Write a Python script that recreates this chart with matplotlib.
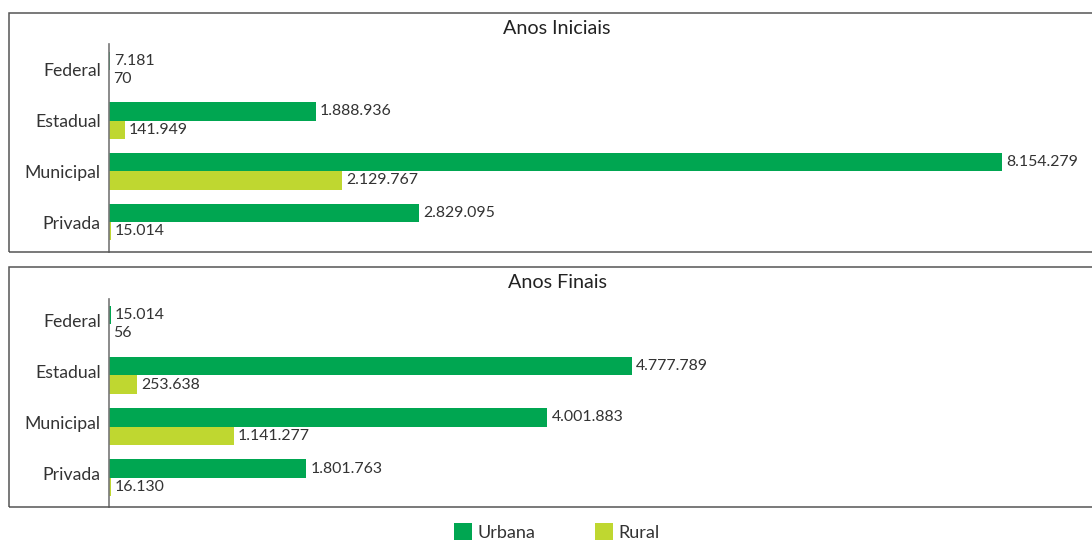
import matplotlib.pyplot as plt
import matplotlib.transforms as mtransforms
from matplotlib.patches import Patch, Rectangle

plt.rcParams["font.family"] = ["Lato", "DejaVu Sans"]

# Daten
categorias = ["Federal", "Estadual", "Municipal", "Privada"]
iniciais_urbana = [7181, 1888936, 8154279, 2829095]
iniciais_rural = [70, 141949, 2129767, 15014]
finais_urbana = [15014, 4777789, 4001883, 1801763]
finais_rural = [56, 253638, 1141277, 16130]

cor_urbana = "#00A651"
cor_rural = "#BFD730"
cor_texto = "#333333"

W, H = 1092, 540


def fmt(v):
    return f"{v:,}".replace(",", ".")


def painel(fig, box_top, box_bot, ax_top, titulo, urbana, rural, ylim, label_dy=0):
    # Rahmen um das Panel
    fig.patches.append(Rectangle((9 / W, 1 - box_bot / H), 1.2, (box_bot - box_top) / H,
                                 transform=fig.transFigure, fill=False,
                                 edgecolor="#555555", linewidth=1.1))
    fig.text(557 / W, 1 - (box_top + 15) / H, titulo, ha="center", va="center",
             fontsize=14.2, color="#222222")

    ax = fig.add_axes([109 / W, 1 - box_bot / H, (W - 109) / W, (box_bot - ax_top) / H])
    y = list(range(len(categorias)))
    h = 0.36
    yu = [i - h / 2 for i in y]
    yr = [i + h / 2 for i in y]
    bu = ax.barh(yu, urbana, height=h, color=cor_urbana)
    br = ax.barh(yr, rural, height=h, color=cor_rural)
    for bars, vals in ((bu, urbana), (br, rural)):
        for b, v in zip(bars, vals):
            ax.annotate(fmt(v), (b.get_width(), b.get_y() + b.get_height() / 2),
                        xytext=(3, 0), textcoords="offset points",
                        ha="left", va="center", fontsize=11.4, color=cor_texto)
    ax.set_xlim(0, 8.977e6)
    ax.set_ylim(*ylim)
    ax.set_yticks(y)
    ax.set_yticklabels(categorias, fontsize=12.7, color=cor_texto)
    ax.tick_params(axis="y", length=0, pad=6)
    if label_dy:
        off = mtransforms.ScaledTranslation(0, label_dy / 100, fig.dpi_scale_trans)
        for lab in ax.get_yticklabels():
            lab.set_transform(lab.get_transform() + off)
    ax.set_xticks([])
    for s in ("top", "right", "bottom"):
        ax.spines[s].set_visible(False)
    ax.spines["left"].set_color("#777777")
    ax.spines["left"].set_linewidth(1.2)
    ax.patch.set_alpha(0)
    return ax


fig = plt.figure(figsize=(W / 100, H / 100), dpi=100)

painel(fig, 13, 252, 44, "Anos Iniciais", iniciais_urbana, iniciais_rural, (3.59, -0.51))
painel(fig, 267, 507, 299, "Anos Finais", finais_urbana, finais_rural, (3.57, -0.49),
       label_dy=4)

handles = [Patch(facecolor=cor_urbana, label="Urbana"),
           Patch(facecolor=cor_rural, label="Rural")]
fig.legend(handles=handles, loc="center", bbox_to_anchor=(557 / W, 1 - 532 / H),
           ncol=2, frameon=False, fontsize=13, handlelength=1.0, handleheight=1.0,
           handletextpad=0.3, columnspacing=3.3, labelcolor=cor_texto,
           borderaxespad=0, borderpad=0)

fig.savefig("out.png", dpi=100)
